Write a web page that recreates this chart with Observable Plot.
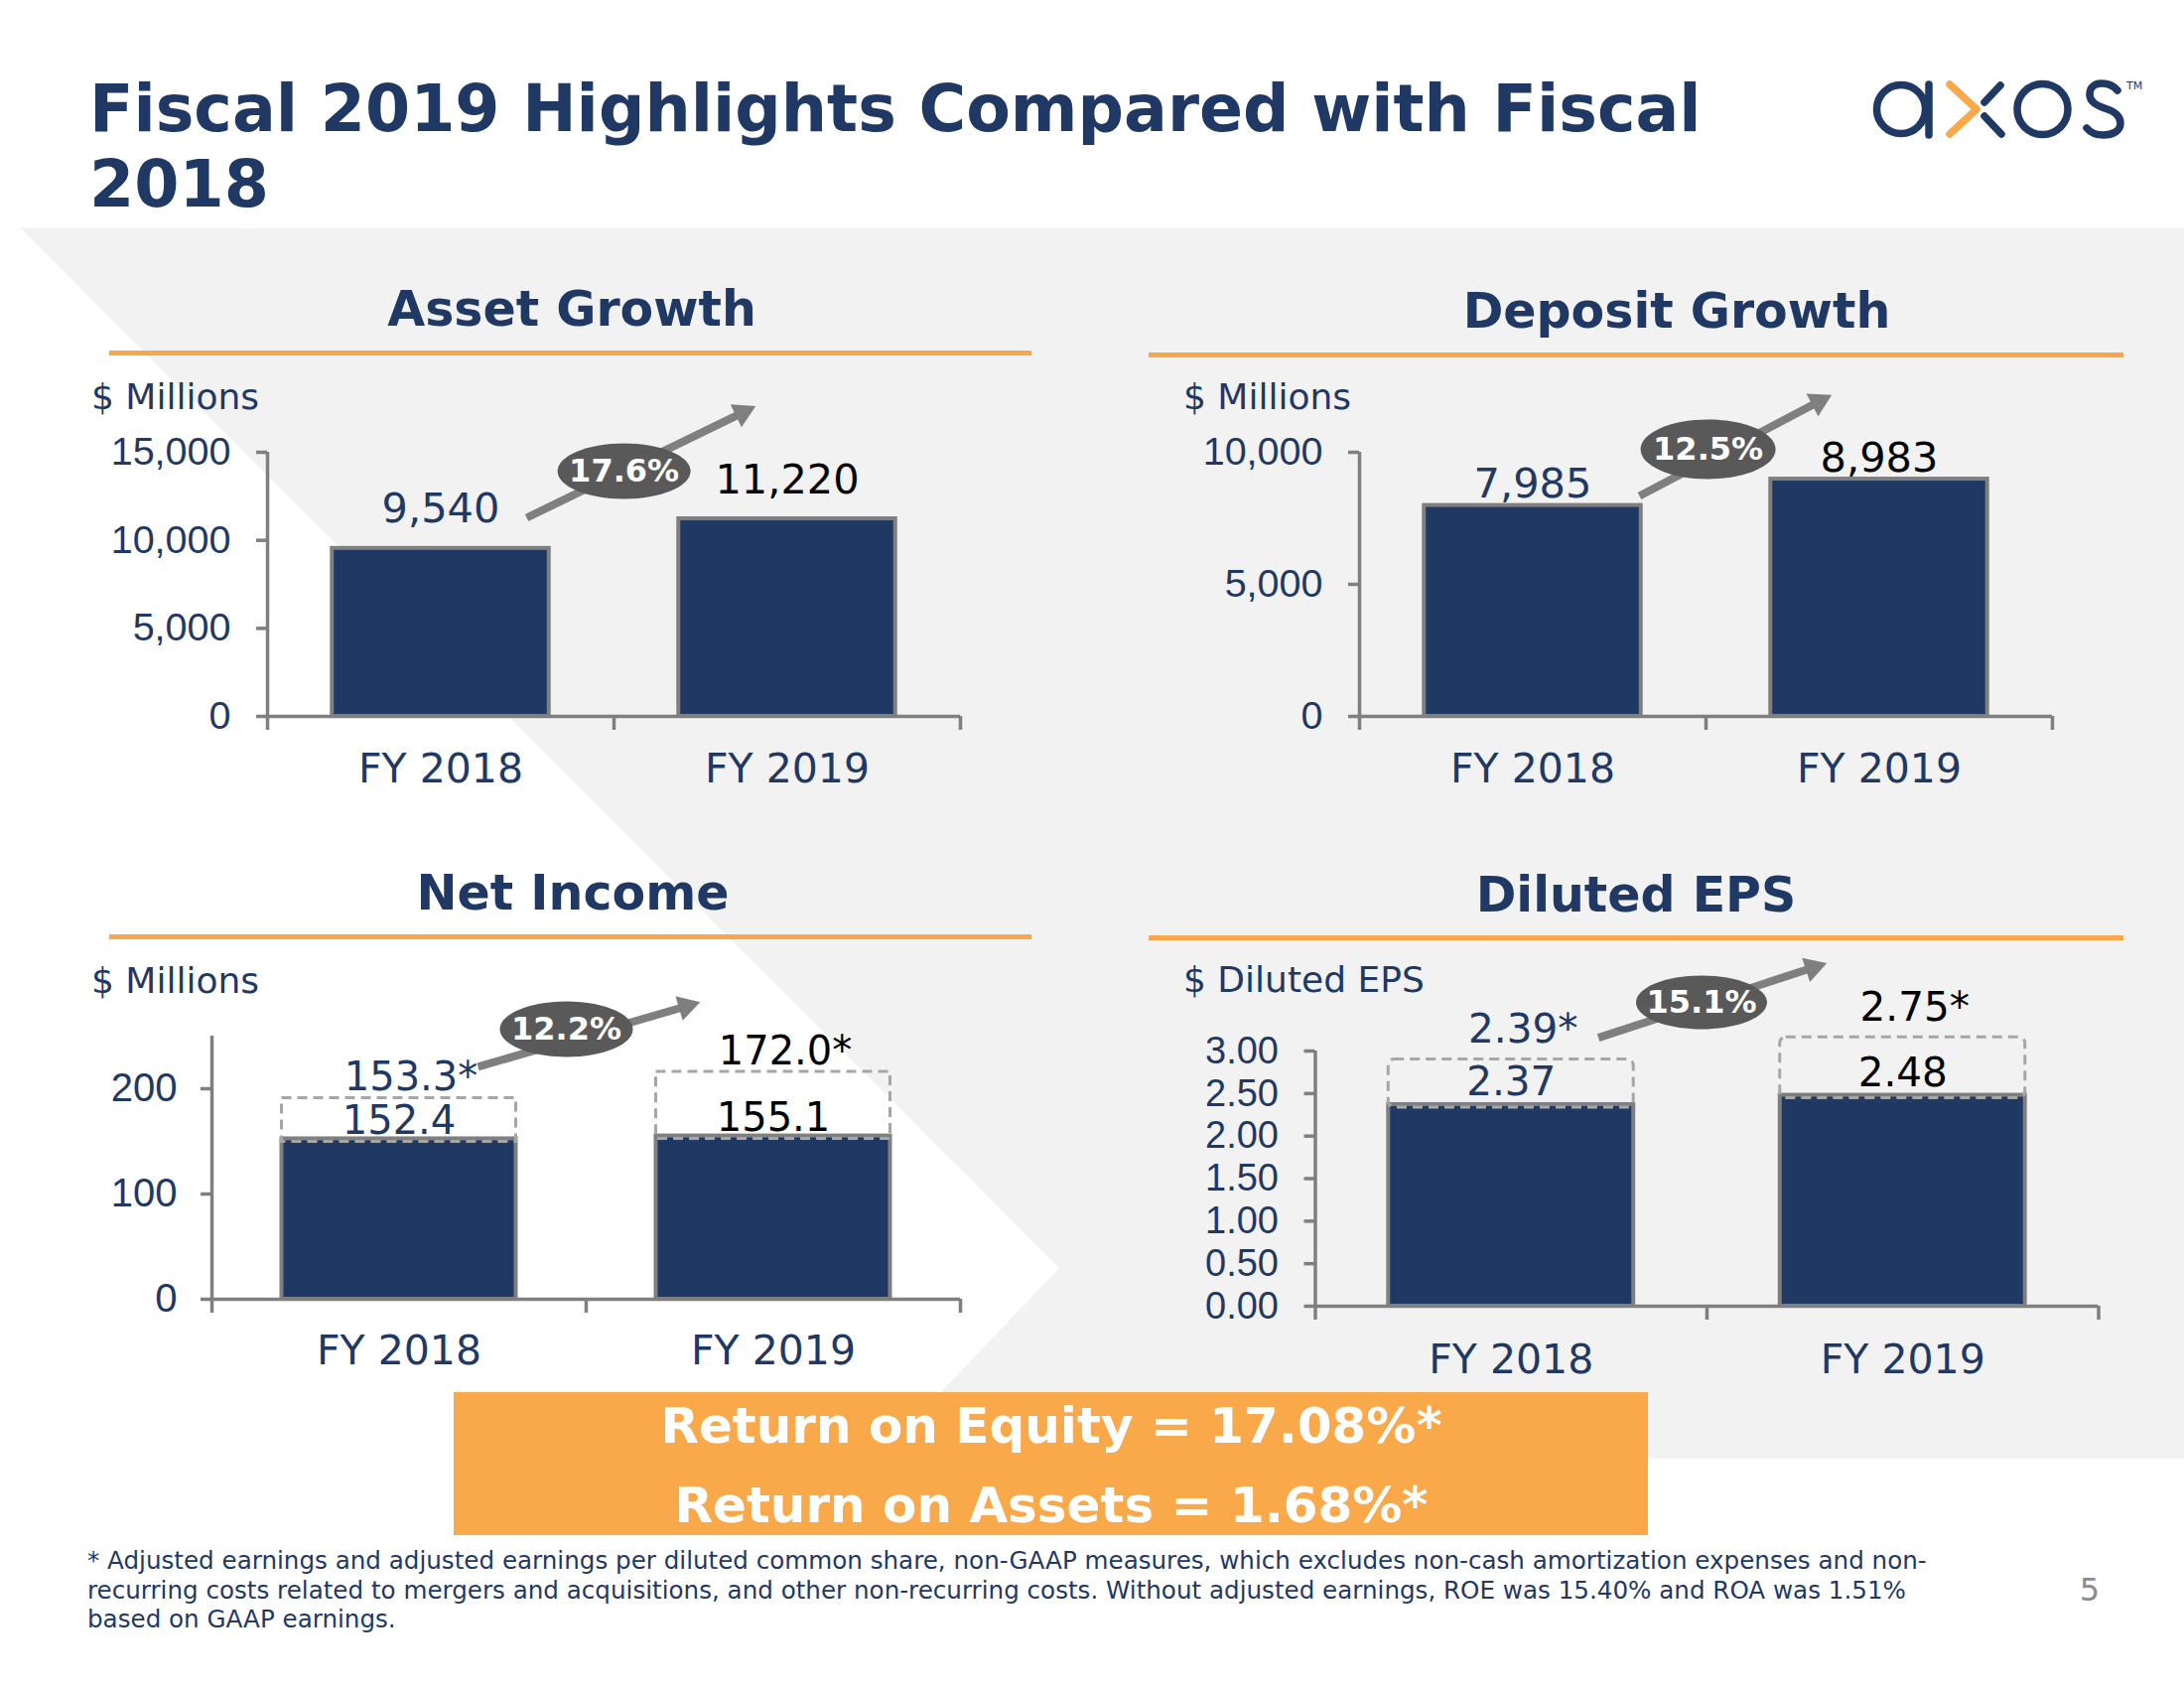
<!DOCTYPE html>
<html><head><meta charset="utf-8">
<script src="https://cdn.jsdelivr.net/npm/d3@7"></script>
<script src="https://cdn.jsdelivr.net/npm/@observablehq/plot@0.6"></script>
<style>
body{margin:0;background:#fff}
#page{position:relative;width:2200px;height:1700px;overflow:hidden;background:#fff;font-family:"DejaVu Sans",Verdana,sans-serif}
#page > svg{position:absolute}
</style></head><body>
<div id="page">
<svg id="bg" width="2200" height="1700" style="left:0;top:0">
  <polygon points="21,230 2200,230 2200,1469 884,1469 1067,1277" fill="#f2f2f2"/>
  <text x="90" y="132" font-size="65" font-weight="bold" fill="#1f3864">Fiscal 2019 Highlights Compared with Fiscal</text>
  <text x="90" y="208" font-size="65" font-weight="bold" fill="#1f3864">2018</text>
  <g fill="none" stroke-width="7.5" stroke-linecap="round">
    <title>axos</title>
    <circle cx="1915" cy="110" r="24.5" stroke="#1f3864"/>
    <line x1="1943" y1="85" x2="1943" y2="136" stroke="#1f3864"/>
    <polyline points="1964,85 1991,110 1964,135" stroke="#f9a84a" stroke-linejoin="round"/>
    <line x1="1999" y1="103" x2="2015" y2="86" stroke="#1f3864"/>
    <line x1="1999" y1="117" x2="2016" y2="135" stroke="#1f3864"/>
    <circle cx="2057.5" cy="110" r="25.5" stroke="#1f3864"/>
    <path d="M2133,91 C2128,85 2121,84 2117,84 C2109,84 2105,89 2105,95 C2105,103 2112,106 2120,109 C2130,112 2136,116 2136,124 C2136,132 2128,136 2119,136 C2112,136 2106,134 2102,129" stroke="#1f3864"/>
  </g>
  <text x="2142" y="90" font-size="11" fill="#1f3864">TM</text>
  <text x="576" y="328" font-size="49" font-weight="bold" fill="#1f3864" text-anchor="middle">Asset Growth</text>
  <text x="1689" y="330" font-size="49" font-weight="bold" fill="#1f3864" text-anchor="middle">Deposit Growth</text>
  <text x="577" y="916" font-size="49" font-weight="bold" fill="#1f3864" text-anchor="middle">Net Income</text>
  <text x="1648" y="918" font-size="49" font-weight="bold" fill="#1f3864" text-anchor="middle">Diluted EPS</text>
  <rect x="110" y="353" width="929" height="5" fill="#f8a64a"/>
  <rect x="1157" y="355" width="982" height="5" fill="#f8a64a"/>
  <rect x="110" y="941" width="929" height="5" fill="#f8a64a"/>
  <rect x="1157" y="942" width="982" height="5" fill="#f8a64a"/>
  <text x="92" y="412" font-size="36" fill="#1f3864">$ Millions</text>
  <text x="1192" y="412" font-size="36" fill="#1f3864">$ Millions</text>
  <text x="92" y="1000" font-size="36" fill="#1f3864">$ Millions</text>
  <text x="1192" y="999" font-size="36" fill="#1f3864">$ Diluted EPS</text>
  <rect x="457" y="1402" width="1203" height="144" fill="#f9a84a"/>
  <text x="1059" y="1453" font-size="50" font-weight="bold" fill="#fff" text-anchor="middle">Return on Equity = 17.08%*</text>
  <text x="1059" y="1533" font-size="50" font-weight="bold" fill="#fff" text-anchor="middle">Return on Assets = 1.68%*</text>
  <g font-size="24.6" fill="#1f3864">
    <text x="88" y="1580">* Adjusted earnings and adjusted earnings per diluted common share, non-GAAP measures, which excludes non-cash amortization expenses and non-</text>
    <text x="88" y="1610">recurring costs related to mergers and acquisitions, and other non-recurring costs. Without adjusted earnings, ROE was 15.40% and ROA was 1.51%</text>
    <text x="88" y="1639">based on GAAP earnings.</text>
  </g>
  <text x="2105" y="1612" font-size="32" fill="#8c8c8c" text-anchor="middle">5</text>
</svg>
</div>
<script>
// ---------- data ----------
const categories = ["FY 2018", "FY 2019"];
const assetValues = [9540, 11220];
const depositValues = [7985, 8983];
const netIncomeGaap = [152.4, 155.1];
const netIncomeAdjusted = [153.3, 172.0];
const epsGaap = [2.37, 2.48];
const epsAdjusted = [2.39, 2.75];
const growthLabels = ["17.6%", "12.5%", "12.2%", "15.1%"];
const assetTicks = [0, 5000, 10000, 15000];
const depositTicks = [0, 5000, 10000];
const netIncomeTicks = [0, 100, 200];
const epsTicks = [0, 0.5, 1, 1.5, 2, 2.5, 3];
// tops of the dashed "adjusted" boxes
const netIncomeBoxTop = [191, 216];
const epsBoxTop = [2.90, 3.16];

// ---------- styles ----------
const NAVY = "#1f3864", AXIS = "#7f7f7f", BADGE = "#595959", DASH = "#a6a6a6";
const labelColors = [NAVY, "#000000"];
const barInset = 0.187;

function ellipseSymbol(rx, ry) {
  const k = 0.5523;
  return {draw(ctx) {
    ctx.moveTo(rx, 0);
    ctx.bezierCurveTo(rx, ry * k, rx * k, ry, 0, ry);
    ctx.bezierCurveTo(-rx * k, ry, -rx, ry * k, -rx, 0);
    ctx.bezierCurveTo(-rx, -ry * k, -rx * k, -ry, 0, -ry);
    ctx.bezierCurveTo(rx * k, -ry, rx, -ry * k, rx, 0);
    ctx.closePath();
  }};
}

function barChart(cfg) {
  const rows = categories.map((c, i) => ({
    i, category: c, value: cfg.values[i],
    adjusted: cfg.adjusted ? cfg.adjusted[i] : null,
    boxTop: cfg.boxTop ? cfg.boxTop[i] : null,
    color: labelColors[i]
  }));
  const marks = [
    Plot.rectY(rows, {x1: d => d.i + barInset, x2: d => d.i + 1 - barInset, y: "value",
      fill: NAVY, stroke: AXIS, strokeWidth: 4}),
  ];
  if (cfg.boxTop) {
    marks.push(Plot.rectY(rows, {x1: d => d.i + barInset, x2: d => d.i + 1 - barInset,
      y1: "value", y2: "boxTop", fill: "none", stroke: DASH, strokeWidth: 3,
      strokeDasharray: "10,6", rx: cfg.boxRx || 0, insetBottom: -3}));
  }
  marks.push(
    Plot.ruleY([0], {stroke: AXIS, strokeWidth: 3.5}),
    Plot.ruleX([0], {stroke: AXIS, strokeWidth: 3.5}),
    Plot.axisY({ticks: cfg.yTicks, tickFormat: cfg.yFormat, tickSize: 11, tickPadding: cfg.tickPad,
      stroke: AXIS, strokeWidth: 3.5, fill: NAVY, fontSize: cfg.tickFont,
      fontFamily: "Liberation Sans", label: null}),
    Plot.axisX({ticks: [0, 1, 2], tickSize: 14, tickFormat: () => "", stroke: AXIS,
      strokeWidth: 3.5, label: null}),
    Plot.axisX({ticks: [0.5, 1.5], tickSize: 0, tickPadding: cfg.fyPad,
      tickFormat: d => categories[Math.floor(d)], fill: NAVY, fontSize: 41,
      fontFamily: "DejaVu Sans", label: null}),
    Plot.text(rows, {x: d => d.i + 0.5, y: "value", text: d => cfg.fmt(d.value),
      dy: cfg.labelDy, lineAnchor: "bottom", fill: "color", fontSize: cfg.labelFont})
  );
  if (cfg.adjusted) {
    marks.push(Plot.text(rows, {x: d => d.i + 0.5, y: "boxTop", text: d => cfg.fmt(d.adjusted) + "*",
      dx: 12, dy: cfg.adjDy, lineAnchor: "bottom", fill: "color", fontSize: cfg.labelFont}));
  }
  const a = cfg.arrow, b = cfg.badge;
  marks.push(
    Plot.link([a], {x1: "x1", y1: "y1", x2: "x2", y2: "y2", stroke: AXIS, strokeWidth: 8}),
    Plot.dot([a], {x: "x2", y: "y2", symbol: "triangle", r: 9.5, fill: AXIS, stroke: "none", rotate: a.rotate}),
    Plot.dot([b], {x: "x", y: "y", symbol: ellipseSymbol(b.rx, b.ry), fill: BADGE, stroke: "none"}),
    Plot.text([b], {x: "x", y: "y", text: () => cfg.growth, fill: "#fff", fontWeight: "bold",
      fontSize: 32, fontFamily: "DejaVu Sans"})
  );
  const svg = Plot.plot({
    width: cfg.width, height: cfg.height,
    marginTop: cfg.margin[0], marginRight: cfg.margin[1], marginBottom: cfg.margin[2], marginLeft: cfg.margin[3],
    x: {domain: [0, 2]},
    y: {domain: cfg.yDomain},
    color: {type: "identity"},
    style: {background: "transparent", overflow: "visible", fontFamily: "DejaVu Sans", color: NAVY},
    marks
  });
  svg.style.position = "absolute";
  svg.style.left = cfg.left + "px";
  svg.style.top = cfg.top + "px";
  svg.style.maxWidth = "none";
  document.getElementById("page").appendChild(svg);
}

barChart({
  left: 60, top: 390, width: 1000, height: 420, margin: [65, 93, 89, 209],
  yDomain: [0, 15000], yTicks: assetTicks, yFormat: d3.format(","), tickFont: 39.5, tickPad: 26, fyPad: 37,
  values: assetValues, fmt: d3.format(","), labelDy: -26, labelFont: 41.5,
  growth: growthLabels[0],
  arrow: {x1: 0.748, y1: 11278, x2: 1.371, y2: 17250, rotate: 64},
  badge: {x: 1.029, y: 13929, rx: 67, ry: 28}
});
barChart({
  left: 1160, top: 390, width: 1000, height: 420, margin: [65, 93, 89, 209],
  yDomain: [0, 10000], yTicks: depositTicks, yFormat: d3.format(","), tickFont: 39.5, tickPad: 26, fyPad: 37,
  values: depositValues, fmt: d3.format(","), labelDy: -8, labelFont: 41.5,
  growth: growthLabels[1],
  arrow: {x1: 0.808, y1: 8346, x2: 1.3255, y2: 11917, rotate: 62.3},
  badge: {x: 1.006, y: 10113, rx: 68, ry: 30}
});
barChart({
  left: 60, top: 985, width: 1000, height: 410, margin: [58, 93, 87, 153],
  yDomain: [0, 250], yTicks: netIncomeTicks, yFormat: d3.format("d"), tickFont: 40, tickPad: 24, fyPad: 36,
  values: netIncomeGaap, adjusted: netIncomeAdjusted, boxTop: netIncomeBoxTop, boxRx: 0,
  fmt: d3.format(".1f"), labelDy: -5, adjDy: -8, labelFont: 40,
  growth: growthLabels[2],
  arrow: {x1: 0.711, y1: 220.8, x2: 1.267, y2: 278.3, rotate: 73.7},
  badge: {x: 0.947, y: 256.6, rx: 67, ry: 28}
});
barChart({
  left: 1160, top: 985, width: 1000, height: 415, margin: [73, 46.5, 85, 164.5],
  yDomain: [0, 3], yTicks: epsTicks, yFormat: d3.format(".2f"), tickFont: 38, tickPad: 26, fyPad: 38,
  values: epsGaap, adjusted: epsAdjusted, boxTop: epsBoxTop, boxRx: 6,
  fmt: d3.format(".2f"), labelDy: -9, adjDy: -17, labelFont: 40.5,
  growth: growthLabels[3],
  arrow: {x1: 0.7227, y1: 3.156, x2: 1.2705, y2: 3.98, rotate: 71.9},
  badge: {x: 0.986, y: 3.572, rx: 66, ry: 27}
});
</script>
</body></html>
